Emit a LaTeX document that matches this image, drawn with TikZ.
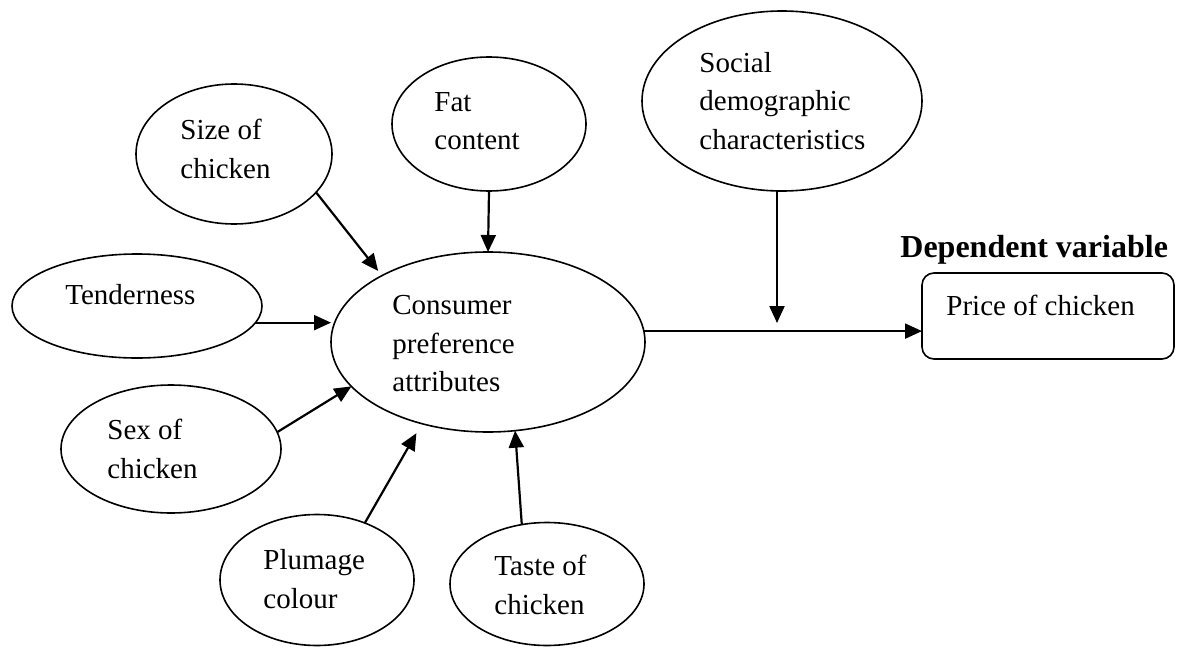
\documentclass[tikz,border=0pt]{standalone}
\usepackage{fontspec}
\setmainfont{Liberation Serif}
\usetikzlibrary{shapes.geometric,arrows.meta,calc}
\begin{document}
\begin{tikzpicture}[x=0.5pt,y=-0.5pt,
  oval/.style={draw, ellipse, line width=0.8pt, inner sep=0pt, outer sep=0pt},
  lbl/.style={anchor=west, align=left, inner sep=0pt, font=\fontsize{14.5}{19.25}\selectfont},
  arr/.style={line width=1.1pt, -{Triangle[length=8.5pt,width=7.5pt]}},
]
\useasboundingbox (0,0) rectangle (1177,647);
% ellipses
\node[oval, minimum width=98pt, minimum height=70pt] (size) at (234,154) {};
\node[oval, minimum width=97pt, minimum height=67pt] (fat) at (489,124) {};
\node[oval, minimum width=140pt, minimum height=90pt] (soc) at (782,101) {};
\node[oval, minimum width=125pt, minimum height=52pt] (tend) at (137,306) {};
\node[oval, minimum width=157pt, minimum height=90pt] (cons) at (488,342) {};
\node[oval, minimum width=110pt, minimum height=64pt] (sex) at (171,449) {};
\node[oval, minimum width=97pt, minimum height=65.5pt] (plum) at (317,580) {};
\node[oval, minimum width=97pt, minimum height=61.5pt] (taste) at (547,584) {};
\node[draw, rounded corners=6pt, line width=0.8pt, minimum width=126pt, minimum height=43pt, inner sep=0pt, outer sep=0pt] (price) at (1048,316) {};
% labels
\node[lbl] (sizeT) at (180,149) {Size of\\chicken};
\node[lbl] (fatT) at (434,121) {Fat\\content};
\node[lbl] (socT) at (699,101) {Social\\demographic\\characteristics};
\node[lbl] (tendT) at (65,295) {Tenderness};
\node[lbl] (consT) at (392,344) {Consumer\\preference\\attributes};
\node[lbl] (sexT) at (107,449) {Sex of\\chicken};
\node[lbl] (plumT) at (263,579) {Plumage\\colour};
\node[lbl] (tasteT) at (494,585) {Taste of\\chicken};
\node[lbl] (priceT) at (946,305) {Price of chicken};
\node[lbl, font=\fontsize{16}{19.25}\selectfont\bfseries] (depT) at (900,250) {Dependent variable};
% connectors
\draw[arr, shorten >=3pt] (size.-25) -- (cons.148);
\draw[arr] (fat.south) -- (cons.north);
\coordinate (jn) at (777,323);
\draw[arr] (soc.south -| jn) -- (jn);
\draw[arr] (tend.-8) -- (tend.-8 -| cons.west);
\draw[arr] (cons.4) -- (cons.4 -| price.west);
\draw[arr] (sex.9) -- (cons.198);
\draw[arr, shorten >=5.5pt] (plum.50) -- (cons.231);
\draw[arr] (taste.113) -- (cons.-73);
\end{tikzpicture}
\end{document}
